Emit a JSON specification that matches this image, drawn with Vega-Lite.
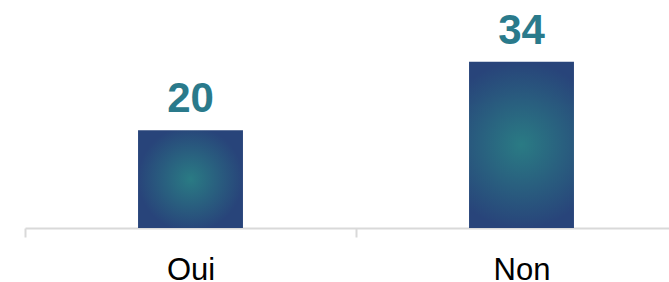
{
  "$schema": "https://vega.github.io/schema/vega-lite/v6.json",
  "autosize": "none",
  "width": 662,
  "height": 228,
  "padding": {"left": 25, "top": 0, "right": 0, "bottom": 54},
  "background": "white",
  "config": {"view": {"stroke": null}},
  "data": {"values": [
    {"reponse": "Oui", "nombre": 20},
    {"reponse": "Non", "nombre": 34}
  ]},
  "encoding": {
    "x": {
      "field": "reponse", "type": "nominal", "sort": ["Oui", "Non"],
      "scale": {"paddingInner": 0, "paddingOuter": 0},
      "axis": {
        "title": null, "labelAngle": 0, "tickBand": "extent",
        "domainColor": "#d9d9d9", "domainWidth": 2,
        "tickColor": "#d9d9d9", "tickWidth": 2, "tickSize": 9,
        "labelFont": "Liberation Sans", "labelFontSize": 31, "labelColor": "#000000",
        "labelPadding": 18
      }
    },
    "y": {
      "field": "nombre", "type": "quantitative",
      "scale": {"domain": [0, 46.6], "nice": false, "zero": true},
      "axis": null
    }
  },
  "layer": [
    {
      "mark": {
        "type": "bar",
        "width": {"band": 0.317},
        "color": {"gradient": "radial", "stops": [
          {"offset": 0, "color": "#2a7b84"},
          {"offset": 1, "color": "#28447a"}
        ]}
      }
    },
    {
      "mark": {
        "type": "text", "baseline": "alphabetic", "dy": -18,
        "font": "Liberation Sans", "fontSize": 42, "fontWeight": "bold", "color": "#2a7a8b"
      },
      "encoding": {"text": {"field": "nombre", "type": "quantitative"}}
    }
  ]
}
